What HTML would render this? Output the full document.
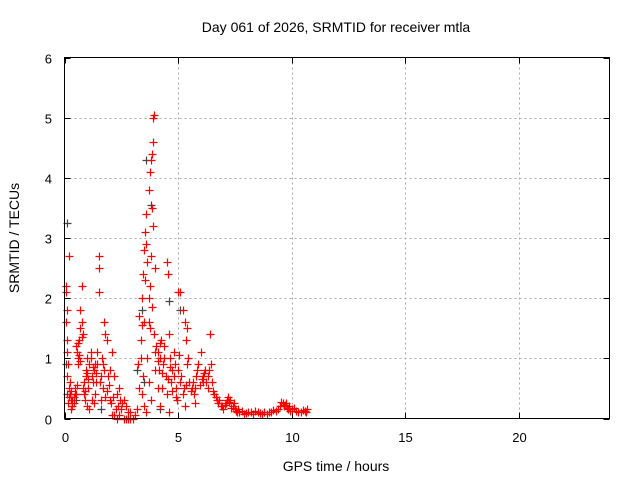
<!DOCTYPE html>
<html><head><meta charset="utf-8"><style>
body{margin:0;background:#fff}
svg{display:block;font-family:"Liberation Sans",sans-serif}
</style></head><body>
<svg id="chart" width="640" height="480">
<text x="336" y="32" font-size="14" text-anchor="middle">Day 061 of 2026, SRMTID for receiver mtla</text>
<text x="336" y="471" font-size="14" text-anchor="middle">GPS time / hours</text>
<text transform="translate(19,238) rotate(-90)" font-size="14" text-anchor="middle">SRMTID / TECUs</text>
<g id="grid"></g><g id="ticks"></g><g id="marks"></g>
<rect x="64.5" y="57.5" width="545" height="361" fill="none" stroke="#000"/>
</svg>
<script>
const xTicks=[0,5,10,15,20];
const yTicks=[0,1,2,3,4,5,6];
const redX=[0.05,0.08,0.1,0.05,0.1,0.12,0.15,0.1,0.2,0.25,0.3,0.35,0.4,0.45,0.2,0.25,0.5,0.3,
0.5,0.55,0.6,0.65,0.7,0.75,0.8,0.7,0.75,0.8,0.85,0.9,0.95,1.0,0.9,1.0,0.6,0.55,
1.05,1.1,1.15,1.2,1.25,1.3,1.35,1.4,1.45,1.5,1.5,1.5,1.45,1.2,1.1,1.3,
1.6,1.7,1.75,1.8,1.85,1.9,1.7,1.8,2.0,2.0,1.6,1.95,
2.1,2.2,2.3,2.35,2.4,2.2,2.5,2.45,2.1,2.3,
2.6,2.7,2.8,2.6,2.7,2.8,2.9,3.0,3.1,2.9,
3.2,3.3,3.35,3.3,3.4,3.45,3.5,3.55,3.6,3.65,3.5,3.45,3.4,3.5,3.6,3.35,
3.7,3.75,3.8,3.85,3.9,3.9,3.95,3.85,3.9,3.8,3.75,3.7,3.65,3.7,3.8,4.0,3.95,4.0,
4.05,4.1,4.15,4.2,4.25,4.3,4.35,4.4,4.45,4.5,4.2,4.1,
4.5,4.55,4.6,4.65,4.7,4.75,4.8,4.85,4.9,4.95,4.6,5.0,
5.0,5.1,5.2,5.3,5.35,5.4,5.45,5.5,5.2,5.3,5.1,5.4,
5.6,5.7,5.8,5.9,6.0,5.75,5.95,6.1,
6.1,6.2,6.3,6.4,6.45,6.5,6.3,6.6,6.7,
6.8,6.9,7.0,7.1,7.2,7.3,7.4,7.5,7.6,
7.7,7.9,8.1,8.3,8.5,8.7,8.9,9.1,9.3,
9.5,9.6,9.7,9.8,9.9,10.0,10.2,10.4,10.6,10.7,
0.15,0.2,0.3,0.35,0.4,0.45,0.6,0.65,0.7,0.75,0.85,0.95,1.0,1.05,1.15,1.25,1.35,1.4,1.55,1.65,1.75,1.85,
2.05,2.15,2.25,2.4,2.55,3.25,3.4,3.55,3.6,3.7,3.75,3.85,4.0,4.1,4.2,4.3,4.4,4.55,4.65,4.75,4.8,4.9,5.05,5.15,5.25,
5.35,5.55,5.65,5.75,5.85,6.05,6.15,6.25,6.35,6.55,6.65,6.75,6.95,7.05,7.15,7.25,7.35,7.45,7.55,7.65,7.8,8.0,8.2,
8.4,8.6,8.8,9.0,9.2,9.4,9.55,9.65,9.75,9.85,9.95,10.1,10.3,10.5,10.65];
const redY=[2.2,2.1,1.8,1.6,1.3,1.1,0.9,0.7,0.5,0.4,0.3,0.2,0.35,0.5,2.7,0.6,0.4,0.15,
1.2,1.1,1.0,1.3,1.5,1.6,1.4,1.8,2.2,0.5,0.4,0.3,0.8,1.0,0.45,0.2,0.9,0.55,
0.5,0.9,1.1,0.7,0.6,0.8,0.4,0.6,0.9,2.7,2.5,2.1,1.1,0.3,0.15,0.25,
0.7,0.5,1.6,1.4,1.3,0.7,0.9,0.35,0.3,0.8,0.3,0.55,
1.1,0.7,0.4,0.2,0.5,0.05,0.15,0.3,0.05,0.0,
0.3,0.2,0.1,0.0,0.0,0.0,0.0,0.0,0.05,0.1,
0.15,0.5,1.0,1.7,2.0,2.4,2.8,3.1,3.4,2.6,1.6,0.7,0.4,0.2,0.1,1.3,
3.8,4.1,4.3,4.4,4.6,5.0,5.05,3.5,3.2,2.7,2.2,1.6,1.0,0.6,0.3,2.5,1.4,0.8,
1.2,1.1,0.8,1.0,1.3,0.5,0.9,1.2,0.7,0.4,0.2,0.5,
2.6,2.4,1.4,1.0,0.6,0.8,1.1,0.9,0.5,0.3,0.1,0.8,
2.1,2.1,1.8,1.6,1.3,1.5,1.0,0.6,0.4,0.2,0.6,0.9,
0.5,0.4,0.7,0.9,1.1,0.25,0.55,0.6,
0.7,0.8,0.7,1.4,0.9,0.6,0.5,0.4,0.3,
0.3,0.2,0.15,0.25,0.35,0.3,0.2,0.15,0.1,
0.1,0.08,0.1,0.08,0.1,0.07,0.08,0.1,0.12,
0.2,0.25,0.22,0.18,0.2,0.15,0.12,0.1,0.12,0.15,
0.25,0.35,0.45,0.3,0.25,0.4,1.25,1.05,0.95,1.35,0.6,0.7,0.75,0.65,1.0,0.85,0.9,0.75,0.6,1.0,0.8,0.45,
0.25,0.35,0.15,0.05,0.25,0.9,1.55,2.3,2.9,2.0,1.5,1.85,1.1,0.95,1.25,0.75,1.0,0.65,0.85,0.45,0.7,0.35,1.05,0.7,0.5,
0.55,0.45,0.6,0.5,0.8,0.65,0.75,0.6,0.8,0.45,0.35,0.25,0.2,0.22,0.3,0.28,0.18,0.25,0.12,0.15,0.12,0.09,0.1,
0.12,0.09,0.1,0.1,0.14,0.15,0.28,0.2,0.25,0.15,0.12,0.18,0.1,0.14,0.1];
const greyX=[0.1,0.05,0.1,3.4,3.6,3.8,4.6,5.1,3.5,0.5,1.6,4.2,3.2];
const greyY=[3.25,0.9,0.4,1.8,4.3,3.55,1.95,1.8,0.6,0.3,0.15,0.15,0.8];
const X0=64.5,X1=609.5,Y0=418.5,Y1=57.5;
const xs=v=>X0+(X1-X0)*v/24;
const ys=v=>Y0-(Y0-Y1)*v/6;
const NS="http://www.w3.org/2000/svg";
const grid=document.getElementById('grid'),ticks=document.getElementById('ticks'),marks=document.getElementById('marks');
function mk(tag,attrs,parent){const e=document.createElementNS(NS,tag);for(const k in attrs)e.setAttribute(k,attrs[k]);parent.appendChild(e);return e;}
xTicks.forEach(t=>{const x=Math.round(xs(t))+0.5;
 if(t>0){const g=mk('line',{x1:x,x2:x,y1:Y1,y2:Y0,stroke:'#aaa','stroke-dasharray':'2,3'},grid);
 
 }
 const l=mk('text',{x:x,y:442,'font-size':13,'text-anchor':'middle'},ticks);l.textContent=t;
 
 
 mk('line',{x1:x,x2:x,y1:Y0,y2:Y0-6,stroke:'#000'},ticks);mk('line',{x1:x,x2:x,y1:Y1,y2:Y1+6,stroke:'#000'},ticks);});
yTicks.forEach(t=>{const y=Math.round(ys(t))+0.5;
 if(t>0&&t<6){const g=mk('line',{x1:X0,x2:X1,y1:y,y2:y,stroke:'#aaa','stroke-dasharray':'2,3'},grid);
 
 }
 const l=mk('text',{x:52,y:y+5,'font-size':13,'text-anchor':'end'},ticks);l.textContent=t;
 
 
 mk('line',{x1:X0,x2:X0+6,y1:y,y2:y,stroke:'#000'},ticks);mk('line',{x1:X1,x2:X1-6,y1:y,y2:y,stroke:'#000'},ticks);});
function plus(x,y,c,name){const p=mk('path',{d:`M${x-4} ${y}H${x+4}M${x} ${y-4}V${y+4}`,stroke:c,'stroke-width':1.2,fill:'none'},marks);
 
 }
greyX.forEach((v,i)=>plus(Math.round(xs(v))+0.5,Math.round(ys(greyY[i]))+0.5,'#444','grey-point'));
redX.forEach((v,i)=>plus(Math.round(xs(v))+0.5,Math.round(ys(redY[i]))+0.5,'#f00','red-point'));
</script>
</body></html>
